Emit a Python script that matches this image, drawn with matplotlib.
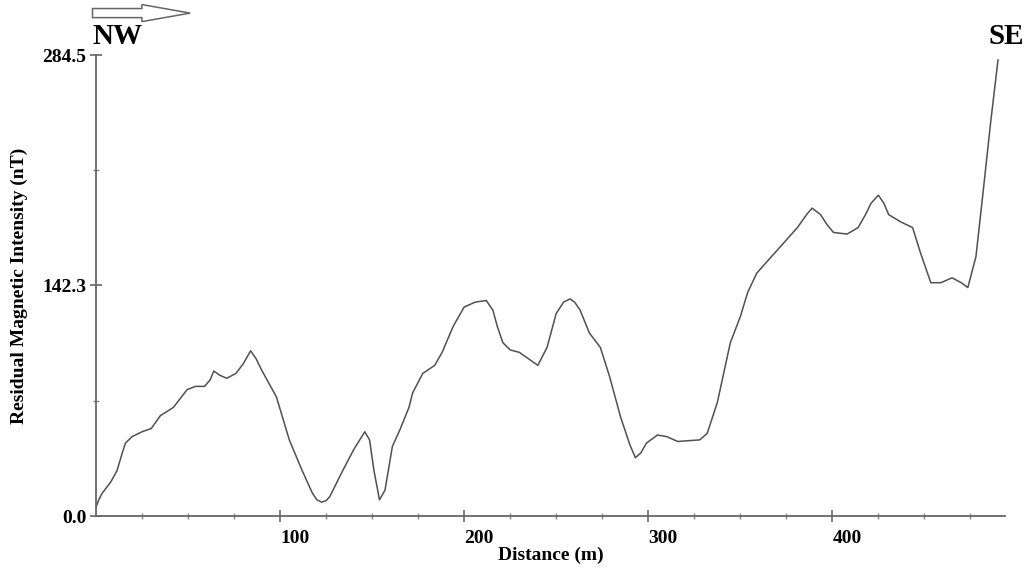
import matplotlib
matplotlib.use("Agg")
import matplotlib.pyplot as plt
from matplotlib.patches import FancyArrow

# profile: distance (m) and residual magnetic intensity (nT)
distance = [0, 1.5, 3.3, 8, 11.4, 14, 16, 19.6, 25, 30, 35, 42, 49.5, 54, 59, 62, 64, 67,
            71, 76, 80, 84, 87, 90, 98, 105, 112, 117.6, 120, 122.5, 125, 127, 134,
            140, 146, 148.6, 151, 154, 157, 161, 165, 170, 172, 177.5, 184, 188,
            194, 200, 206, 212, 215.6, 218, 221, 225, 230, 235, 240, 245, 250,
            254, 257.5, 260, 263, 268, 274, 279, 285, 290, 293, 296, 299, 305,
            310, 316, 328, 332, 337.5, 344.6, 350, 354, 359, 370, 381, 386, 389,
            393.6, 397, 400.6, 408, 414, 418, 421, 425, 428, 430.6, 437, 443.6,
            448, 453.5, 459, 465, 470, 473.6, 478, 482, 486, 490]
intensity = [5.5, 10, 14, 21, 28, 38, 45, 49, 52, 54, 62, 67, 78, 80, 80, 84, 89.5, 87,
             85, 88, 94, 102, 97, 90, 73.5, 47, 28, 14, 10, 8.6, 9.5, 12, 28,
             41, 52, 47, 28, 10, 16, 43, 53, 67, 76, 88, 93, 101,
             117, 129, 132, 133, 127, 117, 107, 102.5, 101, 97, 93, 104, 125,
             132, 134, 132, 127, 113, 104, 86, 61, 44, 36, 39, 45, 50,
             49, 46, 47, 51, 70, 107, 123, 138, 150, 164, 178, 186, 190,
             186, 180, 175, 174, 178, 186, 193, 198, 193, 186, 181.6, 178,
             162, 144, 144, 147, 144, 141, 160, 201, 243, 281.5]

y_ticks = [0.0, 142.3, 284.5]
x_ticks = [100, 200, 300, 400]

serif = ["Liberation Serif", "DejaVu Serif"]
plt.rcParams["font.family"] = serif
plt.rcParams["font.weight"] = "bold"

fig = plt.figure(figsize=(10.28, 5.69), dpi=100)
ax = fig.add_axes([0.0934, 0.0931, 0.8846, 0.8102])

ax.plot(distance, intensity, color="#505050", lw=1.1)

ax.set_xlim(0, 494)
ax.set_ylim(0, 284.5)
ax.spines["top"].set_visible(False)
ax.spines["right"].set_visible(False)
for s in ("left", "bottom"):
    ax.spines[s].set_color("#666666")
    ax.spines[s].set_linewidth(1.3)

ax.set_xticks(x_ticks)
ax.set_xticklabels([str(v) for v in x_ticks], fontsize=14, fontweight="bold", ha="left")
ax.set_xticks([v for v in range(25, 494, 25) if v % 100 != 0], minor=True)
ax.set_yticks(y_ticks)
ax.set_yticklabels(["%.1f" % v for v in y_ticks], fontsize=14, fontweight="bold")
ax.set_yticks([71.15, 213.4], minor=True)
ax.tick_params(which="major", direction="inout", length=8, width=1.2, color="#666666")
ax.tick_params(axis="x", which="major", pad=6)
ax.tick_params(axis="y", which="major", pad=3)
ax.tick_params(which="minor", direction="inout", length=4, width=1, color="#888888")

ax.set_xlabel("Distance (m)", fontsize=14, fontweight="bold", labelpad=0)
ax.set_ylabel("Residual Magnetic Intensity (nT)", fontsize=14, fontweight="bold", labelpad=10)

fig.text(0.090, 0.935, "NW", fontsize=21, fontweight="bold", ha="left", va="center")
fig.text(0.996, 0.935, "SE", fontsize=21, fontweight="bold", ha="right", va="center")

arrow = FancyArrow(0.090, 0.977, 0.095, 0, width=0.016, head_width=0.03,
                   head_length=0.047, length_includes_head=True,
                   transform=fig.transFigure, facecolor="white",
                   edgecolor="#666666", lw=1.1)
fig.patches.append(arrow)

fig.savefig("out.png", dpi=100)
